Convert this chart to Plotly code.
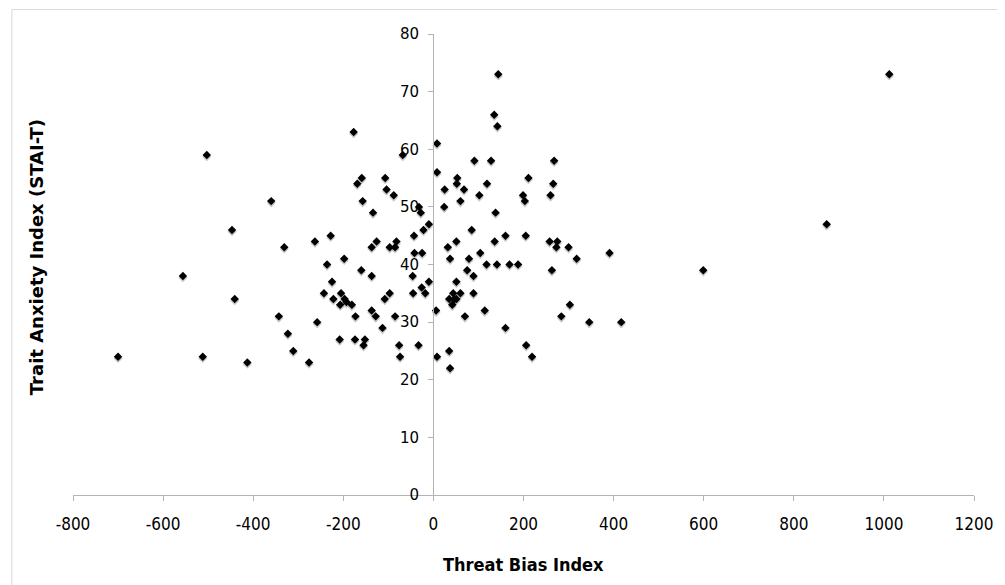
import plotly.graph_objects as go

# Threat Bias Index (x) and Trait Anxiety Index STAI-T (y)
threat_bias = [
    -700, -556, -512, -503, -447, -441, -413, -360, -343, -331,
    -323, -311, -276, -263, -258, -243, -236, -228, -225, -222,
    -208, -207, -205, -198, -197, -193, -181, -177, -174, -173,
    -169, -160, -159, -157, -155, -152, -137, -137, -137, -134,
    -128, -126, -113, -108, -107, -104, -97, -97, -88, -85,
    -85, -82, -76, -74, -68, -46, -45, -43, -42, -33,
    -32, -28, -26, -25, -22, -18, -10, -10, 6, 8,
    8, 8, 24, 25, 32, 35, 35, 37, 37, 47,
    42, 44, 51, 51, 51, 52, 53, 60, 60, 68,
    70, 75, 79, 85, 89, 89, 91, 102, 104, 114,
    118, 119, 128, 135, 136, 138, 141, 142, 144, 160,
    160, 169, 188, 199, 203, 205, 206, 211, 219, 258,
    260, 263, 266, 268, 273, 275, 284, 300, 303, 318,
    346, 391, 417, 599, 873, 1012,
]
trait_anxiety = [
    24, 38, 24, 59, 46, 34, 23, 51, 31, 43,
    28, 25, 23, 44, 30, 35, 40, 45, 37, 34,
    27, 33, 35, 41, 34, 33.5, 33, 63, 27, 31,
    54, 39, 55, 51, 26, 27, 43, 38, 32, 49,
    31, 44, 29, 34, 55, 53, 43, 35, 52, 43,
    31, 44, 26, 24, 59, 38, 35, 45, 42, 26,
    50, 49, 36, 42, 46, 35, 47, 37, 32, 61,
    56, 24, 50, 53, 43, 25, 34, 41, 22, 34,
    33, 35, 44, 37, 34, 54, 55, 51, 35, 53,
    31, 39, 41, 46, 38, 35, 58, 52, 42, 32,
    40, 54, 58, 66, 44, 49, 40, 64, 73, 45,
    29, 40, 40, 52, 51, 45, 26, 55, 24, 44,
    52, 39, 54, 58, 43, 44, 31, 43, 33, 41,
    30, 42, 30, 39, 47, 73,
]

x_ticks = [-800, -600, -400, -200, 0, 200, 400, 600, 800, 1000, 1200]
y_ticks = [0, 10, 20, 30, 40, 50, 60, 70, 80]

fig = go.Figure()

# soft drop shadow under each marker
fig.add_trace(go.Scatter(
    x=threat_bias, y=[v - 0.3 for v in trait_anxiety], mode="markers",
    marker=dict(symbol="diamond", size=7, color="rgba(0,0,0,0.22)", line=dict(width=0)),
    hoverinfo="skip", showlegend=False,
))
fig.add_trace(go.Scatter(
    x=threat_bias, y=trait_anxiety, mode="markers",
    marker=dict(symbol="diamond", size=6.5, color="black", line=dict(width=0)),
    showlegend=False,
))

# page body has an 8px margin; figure coordinates are offset accordingly
W, H = 997, 577
L, R, T, B = 65, 26, 26, 90
pw = W - L - R
ph = H - T - B

axis_grey = "#b3b3b3"
fig.update_layout(
    width=W, height=H,
    margin=dict(l=L, r=R, t=T, b=B),
    paper_bgcolor="white", plot_bgcolor="white",
    xaxis=dict(
        range=[-800, 1200], tickvals=x_ticks, ticktext=[str(v) for v in x_ticks],
        showline=True, linecolor=axis_grey, linewidth=1,
        ticks="outside", ticklen=5, tickcolor=axis_grey,
        showgrid=False, zeroline=False, ticklabelstandoff=9,
        tickfont=dict(family="DejaVu Sans Condensed, DejaVu Sans", size=17, color="black"),
    ),
    yaxis=dict(
        range=[0, 80], tickvals=y_ticks, ticktext=[str(v) for v in y_ticks],
        anchor="free", position=(433 - 71) / pw,
        showline=True, linecolor=axis_grey, linewidth=1,
        ticks="outside", ticklen=5, tickcolor=axis_grey,
        showgrid=False, zeroline=False, ticklabelstandoff=6,
        tickfont=dict(family="DejaVu Sans", size=15, color="black"),
    ),
    annotations=[
        dict(text="<b>Threat Bias Index</b>", xref="paper", yref="paper",
             x=0.5, y=(495 - 564) / ph, xanchor="center", yanchor="middle",
             showarrow=False,
             font=dict(family="DejaVu Sans Condensed, DejaVu Sans", size=18, color="black")),
        dict(text="<b>Trait Anxiety Index (STAI-T)</b>", xref="paper", yref="paper",
             x=(35 - 71) / pw, y=(495 - 257) / ph, xanchor="center", yanchor="middle",
             textangle=-90, showarrow=False,
             font=dict(family="DejaVu Sans", size=18, color="black")),
    ],
    shapes=[
        dict(type="rect", xref="paper", yref="paper",
             x0=(9.5 - 71) / pw, x1=(1002.5 - 71) / pw,
             y0=-0.3, y1=(495 - 9.5) / ph,
             line=dict(color="#d9d9d9", width=1), fillcolor="rgba(0,0,0,0)", layer="below"),
    ],
)

fig.write_html("out.html")
